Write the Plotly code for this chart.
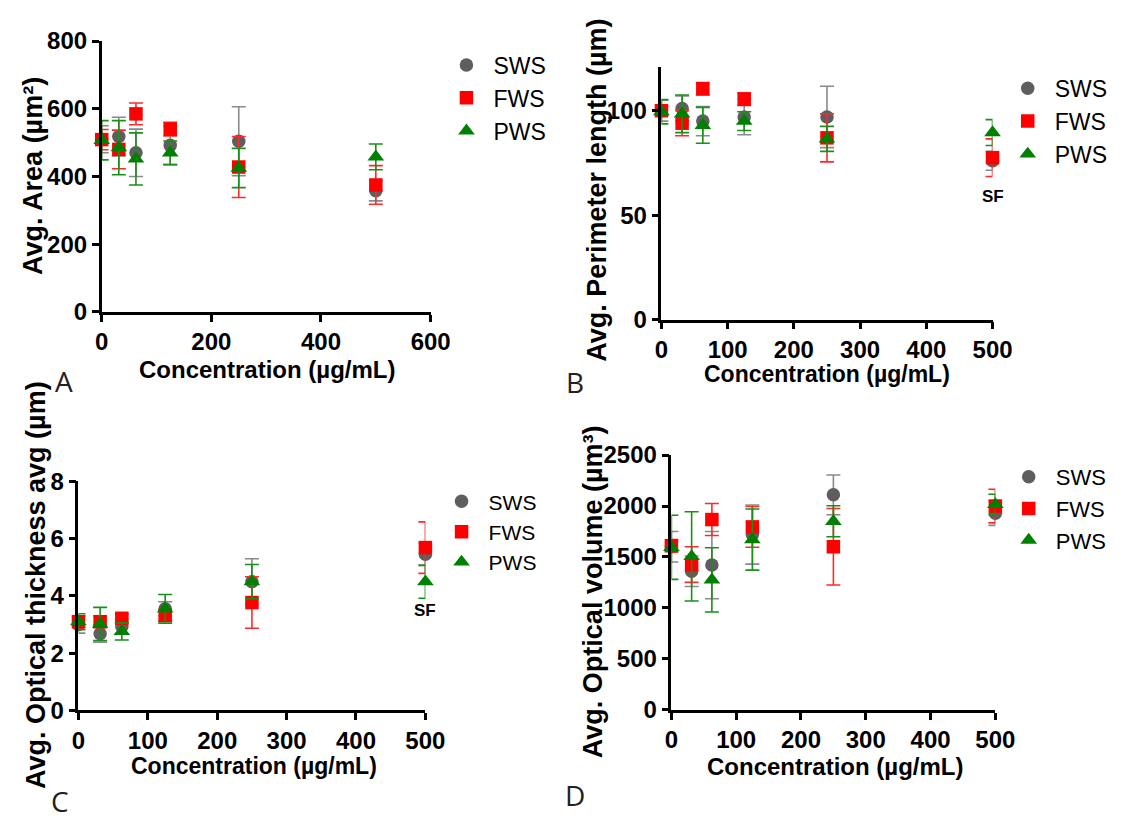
import plotly.graph_objects as go

# ---------------- data ----------------
conc = [0, 31.25, 62.5, 125, 250, 500]
series = ["SWS", "FWS", "PWS"]

# Panel A: Avg. Area (µm²)
area_sws = [510, 518, 470, 492, 504, 358]
area_sws_err = [40, 57, 70, 57, 102, 30]
area_fws = [509, 480, 585, 540, 428, 375]
area_fws_err = [30, 57, 32, 20, 90, 57]
area_pws = [507, 485, 452, 470, 425, 458]
area_pws_err = [58, 80, 77, 35, 58, 38]

# Panel B: Avg. Perimeter length (µm)
per_sws = [100, 101, 95, 97, 97, 76]
per_sws_err = [5, 6, 7, 8.5, 14.7, 4.5]
per_fws = [100, 94, 110.5, 105.5, 87, 77.5]
per_fws_err = [2, 6, 3, 3, 11.5, 9]
per_pws = [99.5, 98.5, 93, 95, 86.5, 89.5]
per_pws_err = [5.8, 9, 8.6, 4.5, 6, 6.2]

# Panel C: Avg. Optical thickness avg (µm)
thk_sws = [3.0, 2.68, 2.93, 3.55, 4.5, 5.46]
thk_sws_err = [0.3, 0.3, 0.25, 0.25, 0.8, 0.4]
thk_fws = [3.1, 3.1, 3.22, 3.32, 3.77, 5.69]
thk_fws_err = [0.2, 0.2, 0.15, 0.2, 0.9, 0.9]
thk_pws = [3.1, 3.02, 2.76, 3.55, 4.5, 4.5]
thk_pws_err = [0.28, 0.58, 0.3, 0.5, 0.6, 0.58]

# Panel D: Avg. Optical volume (µm³)
vol_sws = [1600, 1360, 1420, 1720, 2110, 1930]
vol_sws_err = [150, 150, 330, 290, 195, 120]
vol_fws = [1610, 1425, 1867, 1795, 1600, 2000]
vol_fws_err = [60, 175, 157, 200, 375, 165]
vol_pws = [1595, 1505, 1275, 1671, 1850, 2015]
vol_pws_err = [315, 438, 316, 300, 152, 100]

panel_letters = ["A", "B", "C", "D"]
y_titles = ["Avg. Area (µm²)", "Avg. Perimeter length (µm)",
            "Avg. Optical thickness avg (µm)", "Avg. Optical volume (µm³)"]
x_title = "Concentration (µg/mL)"

# ---------------- styling ----------------
W, H = 1133, 825
colors = {"SWS": "#5e5e5e", "FWS": "#ff0000", "PWS": "#008000"}
err_colors = {"SWS": "#8a8a8a", "FWS": "#ff2a2a", "PWS": "#1a8f1a"}
symbols = {"SWS": "circle", "FWS": "square", "PWS": "triangle-up"}
msize = {"SWS": 13.5, "FWS": 13.5, "PWS": 14.5}
FONT = "Liberation Sans, Arial, sans-serif"


def px_x(p):
    return p / W


def px_y(p):
    return 1 - p / H


panels = [
    dict(vals=[(area_sws, area_sws_err), (area_fws, area_fws_err), (area_pws, area_pws_err)],
         xd=(97, 434), yd=(308, 28), xr=[0, 600], xt=[0, 200, 400, 600],
         yr=[0, 800], yt=[0, 200, 400, 600, 800],
         legend=(443, 30.5), lfont=23, xfont=24,
         xtitle=(266, 368), ytitle=(26, 167), letter=(58, 379)),
    dict(vals=[(per_sws, per_sws_err), (per_fws, per_fws_err), (per_pws, per_pws_err)],
         xd=(670.4, 1009.6), yd=(316, 55), xr=[0, 500], xt=[0, 100, 200, 300, 400, 500],
         yr=[0, 120.8], yt=[0, 50, 100],
         legend=(1018, 54.5), lfont=23, xfont=23,
         xtitle=(840, 372), ytitle=(604, 182), letter=(582, 380)),
    dict(vals=[(thk_sws, thk_sws_err), (thk_fws, thk_fws_err), (thk_pws, thk_pws_err)],
         xd=(73.2, 428.6), yd=(720, 483.3), xr=[0, 500], xt=[0, 100, 200, 300, 400, 500],
         yr=[0, 8], yt=[0, 2, 4, 6, 8],
         legend=(438, 483), lfont=21, xfont=23,
         xtitle=(253, 777.5), ytitle=(29, 590), letter=(54, 814)),
    dict(vals=[(vol_sws, vol_sws_err), (vol_fws, vol_fws_err), (vol_pws, vol_pws_err)],
         xd=(680.6, 1012.5), yd=(719.3, 456), xr=[0, 500], xt=[0, 100, 200, 300, 400, 500],
         yr=[0, 2500], yt=[0, 500, 1000, 1500, 2000, 2500],
         legend=(1019, 457), lfont=22, xfont=24,
         xtitle=(848, 778), ytitle=(601, 597), letter=(582, 807)),
]

fig = go.Figure()
layout = dict(width=W, height=H, margin=dict(l=0, r=0, t=0, b=0),
              paper_bgcolor="white", plot_bgcolor="white", showlegend=True,
              font=dict(family=FONT, color="black"))
annotations = []

for i, p in enumerate(panels):
    n = "" if i == 0 else str(i + 1)
    xa, ya = "x" + n, "y" + n
    lg = "legend" + n
    for s, (v, e) in zip(series, p["vals"]):
        fig.add_trace(go.Scatter(
            x=conc, y=v, mode="markers", name=s, xaxis=xa, yaxis=ya, legend=lg,
            cliponaxis=False,
            marker=dict(symbol=symbols[s], size=msize[s], color=colors[s], line=dict(width=0)),
            error_y=dict(type="data", array=e, visible=True, color=err_colors[s],
                         thickness=1.6, width=7),
        ))
    axis_common = dict(showline=True, linecolor="black", linewidth=2.5, ticks="outside",
                       ticklen=7, tickwidth=2.5, tickcolor="black", showgrid=False,
                       zeroline=False,
                       tickfont=dict(family=FONT, size=24, color="black", weight="bold"))
    layout["xaxis" + n] = dict(domain=[px_x(p["xd"][0]), px_x(p["xd"][1])], range=p["xr"],
                               tickvals=p["xt"], anchor=ya, **axis_common)
    layout["yaxis" + n] = dict(domain=[px_y(p["yd"][0]), px_y(p["yd"][1])], range=p["yr"],
                               tickvals=p["yt"], anchor=xa, **axis_common)
    layout[lg] = dict(x=px_x(p["legend"][0]), y=px_y(p["legend"][1]), xanchor="left",
                      yanchor="top", bgcolor="rgba(0,0,0,0)", itemwidth=44, borderwidth=0,
                      font=dict(family=FONT, size=p["lfont"], color="black"))
    annotations.append(dict(text="<b>" + x_title + "</b>", xref="paper", yref="paper",
                            x=px_x(p["xtitle"][0]), y=px_y(p["xtitle"][1]),
                            xanchor="center", yanchor="middle", showarrow=False,
                            font=dict(family=FONT, size=p["xfont"], color="black")))
    annotations.append(dict(text="<b>" + y_titles[i] + "</b>", xref="paper", yref="paper",
                            x=px_x(p["ytitle"][0]), y=px_y(p["ytitle"][1]), textangle=-90,
                            xanchor="center", yanchor="middle", showarrow=False,
                            font=dict(family=FONT, size=27, color="black")))
    annotations.append(dict(text=panel_letters[i], xref="paper", yref="paper",
                            x=px_x(p["letter"][0]), y=px_y(p["letter"][1]),
                            xanchor="center", yanchor="middle", showarrow=False,
                            font=dict(family="Open Sans, sans-serif", size=28, color="#222")))

# "SF" labels under the 500 µg/mL points in panels B and C
annotations.append(dict(text="<b>SF</b>", xref="x2", yref="y2", x=500, y=59, showarrow=False,
                        font=dict(family=FONT, size=17, color="black")))
annotations.append(dict(text="<b>SF</b>", xref="x3", yref="y3", x=500, y=3.48, showarrow=False,
                        font=dict(family=FONT, size=17, color="black")))

layout["annotations"] = annotations
fig.update_layout(**layout)
fig.write_html("out.html", config={"displayModeBar": False},
               post_script="document.body.style.margin='0';document.body.style.overflow='hidden';")
